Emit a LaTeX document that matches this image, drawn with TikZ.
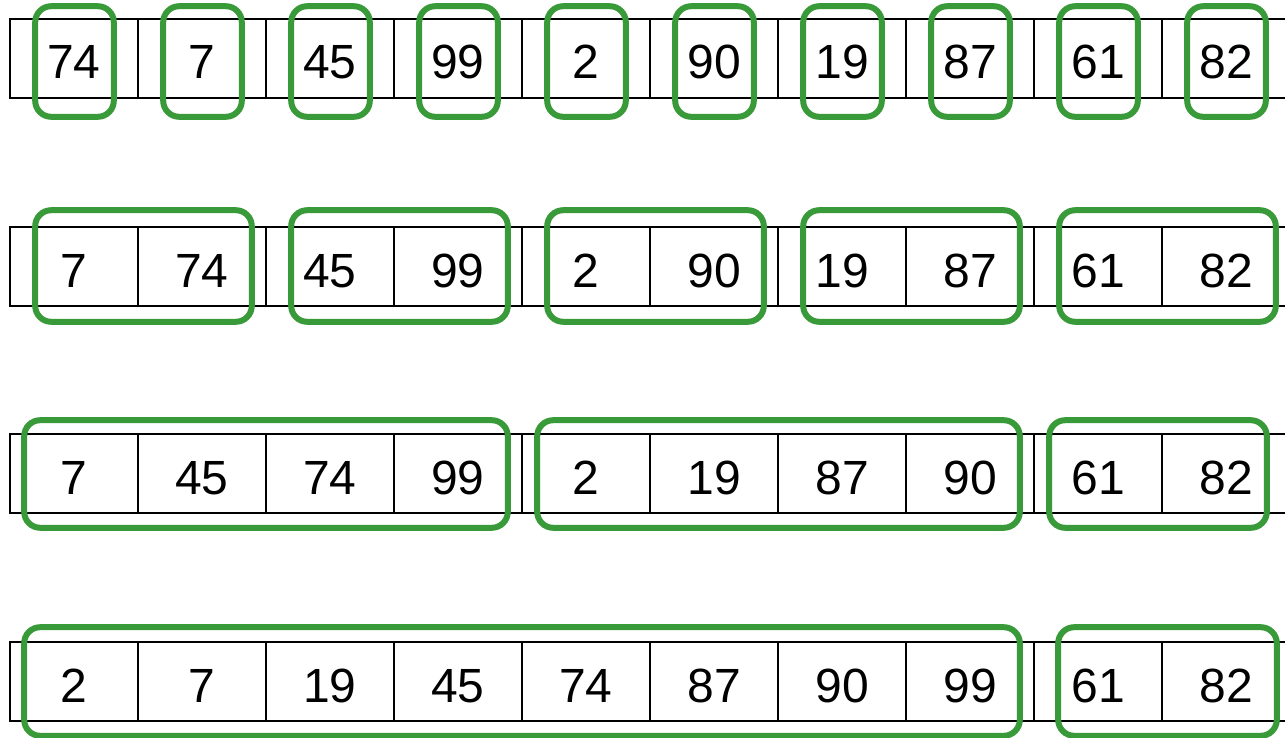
\documentclass[tikz,border=0pt]{standalone}
\usepackage{fontspec}
\setmainfont{Liberation Sans}
\usetikzlibrary{calc}
\definecolor{grpgreen}{RGB}{56,154,56}

\begin{document}
\begin{tikzpicture}[x=1pt, y=-1pt,
    cell/.style={draw=black, line width=1.6pt, minimum width=128pt,
                 minimum height=79pt, inner sep=0pt, text height=41pt,
                 text depth=0pt, font=\fontsize{48}{56}\selectfont},
    grp/.style={draw=grpgreen, line width=6pt, rounded corners=16pt}
  ]
  \useasboundingbox (0,0) rectangle (1285,738);
  % -- pass 1: single runs --
  \foreach \v [count=\i from 0] in {74,7,45,99,2,90,19,87,61,82}{
    \node[cell] (s1\i) at ({74+128*\i}, 58.5) {\v};
  }
  \foreach \i in {0,...,9}{
    \draw[grp] ($(s1\i.north west)+(26,-12)$) rectangle ($(s1\i.south east)+(-25,18)$);
  }
  % -- pass 2: runs of two --
  \foreach \v [count=\i from 0] in {7,74,45,99,2,90,19,87,61,82}{
    \node[cell] (s2\i) at ({74+128*\i}, 266.5) {\v};
  }
  \foreach \i in {0,2,4,6,8}{
    \pgfmathtruncatemacro{\j}{\i+1}
    \draw[grp] ($(s2\i.north west)+(26,-16)$) rectangle ($(s2\j.south east)+(-15,15)$);
  }
  % -- pass 3: runs of four --
  \foreach \v [count=\i from 0] in {7,45,74,99,2,19,87,90,61,82}{
    \node[cell] (s3\i) at ({74+128*\i}, 473.5) {\v};
  }
  \draw[grp] ($(s30.north west)+(15,-13)$) rectangle ($(s33.south east)+(-15,14)$);
  \draw[grp] ($(s34.north west)+(16,-13)$) rectangle ($(s37.south east)+(-15,14)$);
  \draw[grp] ($(s38.north west)+(16,-13)$) rectangle ($(s39.south east)+(-24,14)$);
  % -- pass 4: runs of eight --
  \foreach \v [count=\i from 0] in {2,7,19,45,74,87,90,99,61,82}{
    \node[cell] (s4\i) at ({74+128*\i}, 681.5) {\v};
  }
  \draw[grp] ($(s40.north west)+(15,-14)$) rectangle ($(s47.south east)+(-15,14)$);
  \draw[grp] ($(s48.north west)+(25,-14)$) rectangle ($(s49.south east)+(-14,14)$);
\end{tikzpicture}
\end{document}
